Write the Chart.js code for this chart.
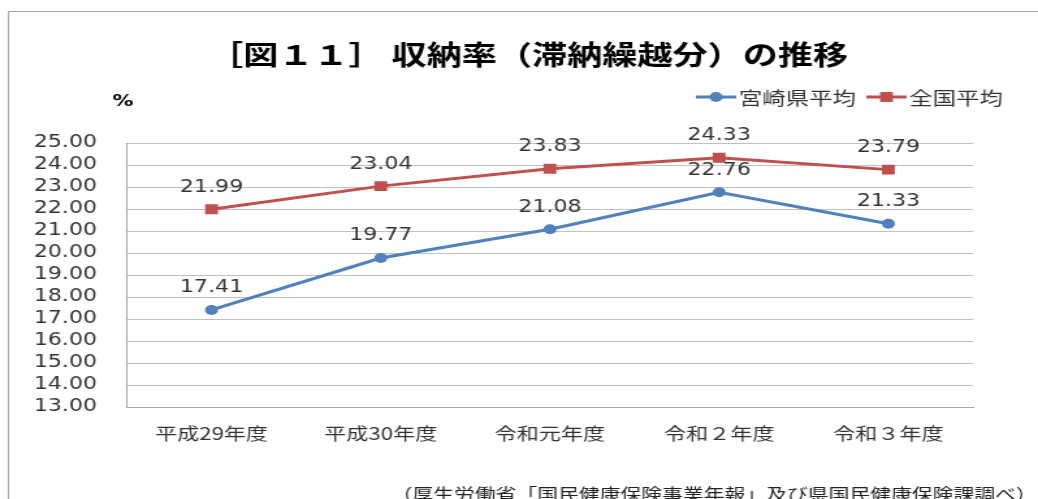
<!DOCTYPE html>
<html lang="ja">
<head>
<meta charset="utf-8">
<title>収納率（滞納繰越分）の推移</title>
<script src="https://cdn.jsdelivr.net/npm/chart.js@4/dist/chart.umd.min.js"></script>
<style>
    html, body { margin: 0; padding: 0; background: #fff; overflow: hidden; }
    /* the reference is stretched horizontally, so draw narrow and stretch the box */
    #wrap {
        width: 798px;
        height: 499px;
        transform: scaleX(1.30075);
        transform-origin: 0 0;
    }
</style>
</head>
<body>
<div id="wrap"><canvas id="chart" width="798" height="499"></canvas></div>
<script>
const categories = ['平成29年度', '平成30年度', '令和元年度', '令和２年度', '令和３年度'];
const miyazakiAvg = [17.41, 19.77, 21.08, 22.76, 21.33];
const nationalAvg = [21.99, 23.04, 23.83, 24.33, 23.79];
const seriesNames = ['宮崎県平均', '全国平均'];
const yMin = 13;
const yMax = 25;
const yStep = 1;

const titleText = '［図１１］ 収納率（滞納繰越分）の推移';
const unitText = '%';
const sourceText = '（厚生労働省「国民健康保険事業年報」及び県国民健康保険課調べ）';

const blue = '#4f81bd';
const red = '#c0504d';
const jpFont = '"Noto Sans CJK JP", "Noto Sans", sans-serif';
const numFont = '"DejaVu Sans", Verdana, sans-serif';

// Title, unit, legend, source note and frame
const decorations = {
    id: 'decorations',
    afterDraw(chart) {
        const ctx = chart.ctx;
        ctx.save();

        // frame (only top and left edges are visible in the reference)
        ctx.strokeStyle = '#a6a6a6';
        ctx.lineWidth = 1;
        ctx.beginPath();
        ctx.moveTo(6.5, chart.height);
        ctx.lineTo(6.5, 11.5);
        ctx.lineTo(chart.width, 11.5);
        ctx.stroke();

        ctx.fillStyle = '#000';
        ctx.textBaseline = 'middle';
        ctx.textAlign = 'center';
        ctx.font = 'bold 27px ' + jpFont;
        ctx.fillText(titleText, 406, 55);

        ctx.font = 'bold 16px ' + numFont;
        ctx.fillText(unitText, 94.5, 102);

        // legend: line + marker, then label
        ctx.font = '18px ' + jpFont;
        ctx.textAlign = 'left';
        const lineLen = 31, gap = 2, itemGap = 8;
        const items = chart.data.datasets.map(ds => ({
            ds, w: lineLen + gap + ctx.measureText(ds.label).width
        }));
        const total = items.reduce((s, it) => s + it.w, 0) + itemGap * (items.length - 1);
        let x = 771 - total;
        const ly = 97;
        items.forEach(it => {
            const ds = it.ds;
            ctx.strokeStyle = ds.borderColor;
            ctx.lineWidth = 3;
            ctx.beginPath();
            ctx.moveTo(x, ly);
            ctx.lineTo(x + lineLen, ly);
            ctx.stroke();
            ctx.fillStyle = ds.backgroundColor;
            Chart.helpers.drawPoint(ctx, {
                pointStyle: ds.pointStyle,
                radius: ds.pointRadius,
                borderWidth: 0
            }, x + lineLen / 2, ly);
            ctx.fillStyle = '#333';
            ctx.fillText(ds.label, x + lineLen + gap, ly + 1);
            x += it.w + itemGap;
        });

        ctx.font = '16px ' + jpFont;
        ctx.fillStyle = '#222';
        ctx.fillText(sourceText, 301, 494);

        ctx.restore();
    }
};

// value labels above each point
const valueLabels = {
    id: 'valueLabels',
    afterDatasetsDraw(chart) {
        const ctx = chart.ctx;
        ctx.save();
        ctx.font = '17px ' + numFont;
        ctx.fillStyle = '#333';
        ctx.textAlign = 'center';
        ctx.textBaseline = 'middle';
        chart.data.datasets.forEach((ds, i) => {
            chart.getDatasetMeta(i).data.forEach((pt, j) => {
                ctx.fillText(ds.data[j].toFixed(2), pt.x, pt.y - 22);
            });
        });
        ctx.restore();
    }
};

document.addEventListener('DOMContentLoaded', () => {
    const ctx = document.getElementById('chart').getContext('2d');

    new Chart(ctx, {
        type: 'line',
        data: {
            labels: categories,
            datasets: [{
                label: seriesNames[0],
                data: miyazakiAvg,
                borderColor: blue,
                backgroundColor: blue,
                borderWidth: 3,
                pointStyle: 'circle',
                pointRadius: 5,
                pointBorderWidth: 0,
                tension: 0
            }, {
                label: seriesNames[1],
                data: nationalAvg,
                borderColor: red,
                backgroundColor: red,
                borderWidth: 3,
                pointStyle: 'rect',
                pointRadius: 7,
                pointBorderWidth: 0,
                tension: 0
            }]
        },
        options: {
            responsive: false,
            devicePixelRatio: 1,
            animation: false,
            events: [],
            layout: {
                padding: { left: 0, top: 143, right: 50, bottom: 32 }
            },
            plugins: {
                legend: { display: false },
                title: { display: false },
                tooltip: { enabled: false }
            },
            scales: {
                x: {
                    offset: true,
                    grid: { display: true, drawOnChartArea: false, drawTicks: false },
                    border: { display: true, color: '#a6a6a6', width: 1 },
                    ticks: {
                        padding: 16,
                        color: '#333',
                        font: { family: jpFont, size: 17 },
                        maxRotation: 0,
                        autoSkip: false
                    },
                    afterFit(scale) { scale.height = 60; }
                },
                y: {
                    min: yMin,
                    max: yMax,
                    grid: { color: '#c0c0c0', lineWidth: 1, drawTicks: false },
                    border: { display: true, color: '#a6a6a6', width: 1 },
                    ticks: {
                        stepSize: yStep,
                        autoSkip: false,
                        padding: 23,
                        color: '#333',
                        font: { family: numFont, size: 17 },
                        callback: v => v.toFixed(2)
                    },
                    afterFit(scale) { scale.width = 97.6; }
                }
            }
        },
        plugins: [valueLabels, decorations]
    });
});
</script>
</body>
</html>
